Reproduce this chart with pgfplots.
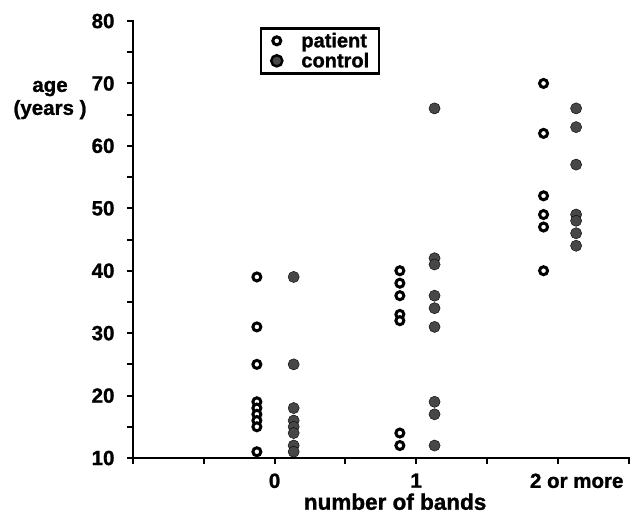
\documentclass[border=0pt]{standalone}
\usepackage{fontspec}
\setmainfont{Liberation Sans}[BoldFeatures={FakeBold=1.2}]
\usepackage{pgfplots}
\pgfplotsset{compat=1.18}
\definecolor{ctrl}{HTML}{474747}
\newcommand{\bigfont}{\fontsize{20.5}{23}\selectfont\bfseries}
\begin{document}
\begin{tikzpicture}
\path[use as bounding box] (-133pt,-62pt) rectangle (504pt,458pt);
\begin{axis}[
  at={(0pt,0pt)}, anchor=south west,
  scale only axis, width=495.5pt, height=437pt,
  xmin=-1, xmax=2.5, ymin=10, ymax=80,
  axis lines=left,
  axis line style={-, line width=2.4pt, line cap=rect},
  clip=false,
  xtick={-1,-0.5,0,0.5,1,1.5,2,2.5},
  xticklabels={,,0,,1,,\hspace{38pt}2 or more,},
  ytick={10,20,...,80},
  minor ytick={15,25,...,75},
  tick align=outside,
  major tick length=6pt, minor tick length=6pt,
  every major tick/.style={black, line width=2pt},
  every minor tick/.style={black, line width=2pt},
  tick label style={font=\bigfont},
  xticklabel style={yshift=-6pt},
  yticklabel style={xshift=-9pt},
  /pgf/number format/assume math mode=true,
  xlabel={number of bands},
  xlabel style={at={(rel axis cs:0.529,-0.1000)}, anchor=center,
    font=\fontsize{22.5}{25}\selectfont\bfseries, inner sep=0pt},
  legend style={at={(0.2563,0.986)}, anchor=north west, draw=black, line width=2.4pt,
    inner xsep=10pt, inner ysep=4.5pt, row sep=4pt, column sep=19pt,
    nodes={inner sep=0pt}, font=\fontsize{20}{22}\selectfont\bfseries},
  legend cell align=left,
]
\addplot[only marks, mark=*, mark size=4pt,
  mark options={draw=black, fill=white, line width=3pt}] table {
x y
-0.125 39
-0.125 31
-0.125 25
-0.125 19
-0.125 18
-0.125 17
-0.125 16
-0.125 15
-0.125 11
0.885 40
0.885 38
0.885 36
0.885 33
0.885 32
0.885 14
0.885 12
1.9 70
1.9 62
1.9 52
1.9 49
1.9 47
1.9 40
};
\addlegendentry{patient}
\addplot[only marks, mark=*, mark size=5.6pt,
  mark options={draw=none, fill=ctrl}] table {
x y
0.135 39
0.135 25
0.135 18
0.135 16
0.135 15
0.135 14
0.135 12
0.135 11
1.13 66
1.13 42
1.13 41
1.13 36
1.13 34
1.13 31
1.13 19
1.13 17
1.13 12
2.13 66
2.13 63
2.13 57
2.13 49
2.13 48
2.13 46
2.13 44
};
\addlegendentry{control}
\node[align=center, font=\bigfont, inner sep=0pt] at (axis cs:-1.586,67.35) {age\\(years )};
\end{axis}
\end{tikzpicture}
\end{document}
